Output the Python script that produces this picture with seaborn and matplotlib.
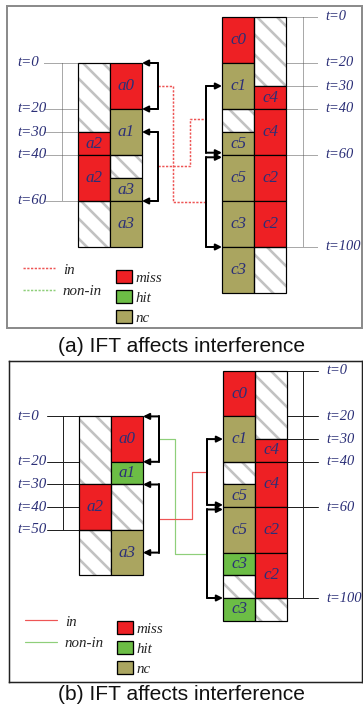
import numpy as np
import matplotlib
matplotlib.use("Agg")
import matplotlib.pyplot as plt
import seaborn as sns
from matplotlib.lines import Line2D
from matplotlib.patches import Patch

# ---------------- data ----------------
# panel (a): left task (a*) and right task (c*), two columns each
A_LEFT_COL = [0, 0, 0, 0, 1, 1, 1, 1, 1]
A_LEFT_START = [0, 30, 40, 60, 0, 20, 40, 50, 60]
A_LEFT_END = [30, 40, 60, 80, 20, 40, 50, 60, 80]
A_LEFT_LABEL = ["", "a2", "a2", "", "a0", "a1", "", "a3", "a3"]
A_LEFT_STATE = ["idle", "miss", "miss", "idle", "miss", "nc", "idle", "nc", "nc"]

A_RIGHT_COL = [0, 0, 0, 0, 0, 0, 0, 1, 1, 1, 1, 1, 1]
A_RIGHT_START = [0, 20, 40, 50, 60, 80, 100, 0, 30, 40, 60, 80, 100]
A_RIGHT_END = [20, 40, 50, 60, 80, 100, 120, 30, 40, 60, 80, 100, 120]
A_RIGHT_LABEL = ["c0", "c1", "", "c5", "c5", "c3", "c3", "", "c4", "c4", "c2", "c2", ""]
A_RIGHT_STATE = ["miss", "nc", "idle", "nc", "nc", "nc", "nc",
                 "idle", "miss", "miss", "miss", "miss", "idle"]

# panel (b)
B_LEFT_COL = [0, 0, 0, 1, 1, 1, 1]
B_LEFT_START = [0, 30, 50, 0, 20, 30, 50]
B_LEFT_END = [30, 50, 70, 20, 30, 50, 70]
B_LEFT_LABEL = ["", "a2", "", "a0", "a1", "", "a3"]
B_LEFT_STATE = ["idle", "miss", "idle", "miss", "hit", "idle", "nc"]

B_RIGHT_COL = [0, 0, 0, 0, 0, 0, 0, 0, 1, 1, 1, 1, 1, 1]
B_RIGHT_START = [0, 20, 40, 50, 60, 80, 90, 100, 0, 30, 40, 60, 80, 100]
B_RIGHT_END = [20, 40, 50, 60, 80, 90, 100, 110, 30, 40, 60, 80, 100, 110]
B_RIGHT_LABEL = ["c0", "c1", "", "c5", "c5", "c3", "", "c3", "", "c4", "c4", "c2", "c2", ""]
B_RIGHT_STATE = ["miss", "nc", "idle", "nc", "nc", "hit", "idle", "hit",
                 "idle", "miss", "miss", "miss", "miss", "idle"]

A_LEFT_TICKS = [0, 20, 30, 40, 60]
A_RIGHT_TICKS = [0, 20, 30, 40, 60, 100]
B_LEFT_TICKS = [0, 20, 30, 40, 50]
B_RIGHT_TICKS = [0, 20, 30, 40, 60, 100]

# interference windows (start, end) marked by brackets
LEFT_BRACKETS = [(0, 20), (30, 60)]
RIGHT_BRACKETS = [(30, 59), (61, 100)]

# links: left bracket -> right bracket, kind
A_LINKS = [(0, 1, "in"), (1, 0, "in")]
B_LINKS = [(0, 1, "non-in"), (1, 0, "in")]

CAPTIONS = ["(a) IFT affects interference", "(b) IFT affects interference"]

# ---------------- style ----------------
DPI = 60
W, H = 363, 708
PT = 72 / DPI          # points per pixel
COL_W = 32
NAVY = "#2b2f77"
HATCH_C = "#c2c2c2"
STATE_COLORS = {"miss": "#ee2024", "hit": "#6cbd45", "nc": "#aaa560", "idle": "none"}
LINK_COLORS = {"in": "#ee5555", "non-in": "#8fcf7a"}

sns.set_theme(style="white", rc={"hatch.linewidth": 2.6 * PT, "hatch.color": HATCH_C})
plt.rcParams["font.family"] = ["Liberation Serif", "DejaVu Serif"]

PANELS = [
    dict(box=(7, 6, 362, 328), t0=17, scale=2.3, shift=20, left_x=78, right_x=222,
         br_left=158, br_right=206, link_x=(173, 190), gl=(44, 62), gr=(317, 303),
         lab_l=17, lab_r=325, frame="#8c8c8c", frame_lw=2, guide_c="#555555",
         guide_ls=(0, (1, 1)), link_ls=(0, (1.5, 1)), link_lw=1.5,
         leg_lines=(23, 263), leg_patch=(116, 270), caption_y=347,
         data=(A_LEFT_COL, A_LEFT_START, A_LEFT_END, A_LEFT_LABEL, A_LEFT_STATE,
               A_RIGHT_COL, A_RIGHT_START, A_RIGHT_END, A_RIGHT_LABEL, A_RIGHT_STATE),
         ticks=(A_LEFT_TICKS, A_RIGHT_TICKS), links=A_LINKS),
    dict(box=(9, 361, 362, 682), t0=371, scale=2.27, shift=20, left_x=79, right_x=223,
         br_left=159, br_right=207, link_x=(175, 192), gl=(47, 63), gr=(318, 303),
         lab_l=17, lab_r=326, frame="#222222", frame_lw=1.5, guide_c="#222222",
         guide_ls="-", link_ls="-", link_lw=1.2,
         leg_lines=(25, 615), leg_patch=(117, 621), caption_y=695,
         data=(B_LEFT_COL, B_LEFT_START, B_LEFT_END, B_LEFT_LABEL, B_LEFT_STATE,
               B_RIGHT_COL, B_RIGHT_START, B_RIGHT_END, B_RIGHT_LABEL, B_RIGHT_STATE),
         ticks=(B_LEFT_TICKS, B_RIGHT_TICKS), links=B_LINKS),
]


def draw_blocks(ax, x0, shift, cols, starts, ends, labels, states):
    cols = np.asarray(cols)
    s = np.asarray(starts, dtype=float) + shift
    e = np.asarray(ends, dtype=float) + shift
    xs = x0 + COL_W * cols + COL_W / 2
    idle = np.array([st == "idle" for st in states])
    # hatched (idle) slots
    ax.bar(xs[idle], (e - s)[idle], bottom=s[idle], width=COL_W, color="white",
           edgecolor=HATCH_C, hatch="\\", linewidth=0, zorder=2)
    # coloured slots + outlines
    ax.bar(xs, e - s, bottom=s, width=COL_W, color=[STATE_COLORS[st] for st in states],
           edgecolor="black", linewidth=1.2 * PT, zorder=3)
    for x, a, b, lab in zip(xs, s, e, labels):
        if lab:
            ax.text(x, (a + b) / 2, lab, ha="center", va="center", color=NAVY,
                    style="italic", fontsize=17 * PT, zorder=4)


def draw_bracket(ax, bx, edge, t1, t2):
    ax.plot([bx, bx], [t1, t2], color="black", lw=2 * PT, zorder=3)
    for t in (t1, t2):
        ax.annotate("", xy=(edge, t), xytext=(bx, t),
                    arrowprops=dict(arrowstyle="-|>,head_length=0.5,head_width=0.25",
                                    color="black", lw=2 * PT, shrinkA=0, shrinkB=0,
                                    mutation_scale=12), zorder=3)


fig = plt.figure(figsize=(W / DPI, H / DPI), dpi=DPI)

for p, caption in zip(PANELS, CAPTIONS):
    x0, y0, x1, y1 = p["box"]
    ax = fig.add_axes([x0 / W, 1 - y1 / H, (x1 - x0) / W, (y1 - y0) / H])
    ax.set_xlim(x0, x1)
    ax.set_ylim((y1 - p["t0"]) / p["scale"], (y0 - p["t0"]) / p["scale"])
    ax.set_xticks([])
    ax.set_yticks([])
    for sp in ax.spines.values():
        sp.set_color(p["frame"])
        sp.set_linewidth(p["frame_lw"] * PT)

    (lc, ls_, le, ll, lst, rc, rs, re_, rl, rst) = p["data"]
    shift = p["shift"]
    draw_blocks(ax, p["left_x"], shift, lc, ls_, le, ll, lst)
    draw_blocks(ax, p["right_x"], 0, rc, rs, re_, rl, rst)

    # time guides and labels
    lt, rt = p["ticks"]
    gkw = dict(color=p["guide_c"], lw=1 * PT, ls=p["guide_ls"], zorder=1)
    for t in lt:
        ax.plot([p["gl"][0], p["left_x"]], [t + shift, t + shift], **gkw)
        ax.text(p["lab_l"], t + shift, f"t={t}", ha="left", va="center", color=NAVY,
                style="italic", fontsize=15 * PT)
    ax.plot([p["gl"][1]] * 2, [min(lt) + shift, max(lt) + shift], **gkw)
    r_edge = p["right_x"] + 2 * COL_W
    for t in rt:
        ax.plot([r_edge, p["gr"][0]], [t, t], **gkw)
        ax.text(p["lab_r"], t, f"t={t}", ha="left", va="center", color=NAVY,
                style="italic", fontsize=14.5 * PT)
    ax.plot([p["gr"][1]] * 2, [min(rt), max(rt)], **gkw)

    # brackets
    for t1, t2 in LEFT_BRACKETS:
        draw_bracket(ax, p["br_left"], p["left_x"] + 2 * COL_W, t1 + shift, t2 + shift)
    for t1, t2 in RIGHT_BRACKETS:
        draw_bracket(ax, p["br_right"], p["right_x"], t1, t2)

    # links between interference windows
    for li, ri, kind in p["links"]:
        ym_l = sum(LEFT_BRACKETS[li]) / 2 + shift
        ym_r = sum(RIGHT_BRACKETS[ri]) / 2
        vx = p["link_x"][li]
        ax.plot([p["br_left"], vx, vx, p["br_right"]], [ym_l, ym_l, ym_r, ym_r],
                color=LINK_COLORS[kind], lw=p["link_lw"] * PT, ls=p["link_ls"], zorder=2)

    # legends
    prop = dict(family="Liberation Serif", style="italic", size=15 * PT)
    line_handles = [Line2D([], [], color=LINK_COLORS[k], lw=p["link_lw"] * PT, ls=p["link_ls"])
                    for k in ("in", "non-in")]
    lx, ly = p["leg_lines"]
    leg1 = ax.legend(line_handles, ["in", "non-in"], loc="upper left",
                     bbox_to_anchor=(lx / W, 1 - ly / H), bbox_transform=fig.transFigure,
                     frameon=False, borderpad=0, borderaxespad=0, handlelength=2.13,
                     handletextpad=0.53, labelspacing=0.53, prop=prop)
    ax.add_artist(leg1)
    patch_handles = [Patch(facecolor=STATE_COLORS[k], edgecolor="black", linewidth=1.3 * PT)
                     for k in ("miss", "hit", "nc")]
    px_, py_ = p["leg_patch"]
    ax.legend(patch_handles, ["miss", "hit", "nc"], loc="upper left",
              bbox_to_anchor=(px_ / W, 1 - py_ / H), bbox_transform=fig.transFigure,
              frameon=False, borderpad=0, borderaxespad=0, handlelength=1.07,
              handleheight=1.0, handletextpad=0.2, labelspacing=0.34, prop=prop)

    fig.text(181 / W, 1 - p["caption_y"] / H, caption, ha="center", va="center",
             family="Liberation Sans", fontsize=21 * PT, color="#111111")

fig.savefig("out.png", dpi=DPI)
